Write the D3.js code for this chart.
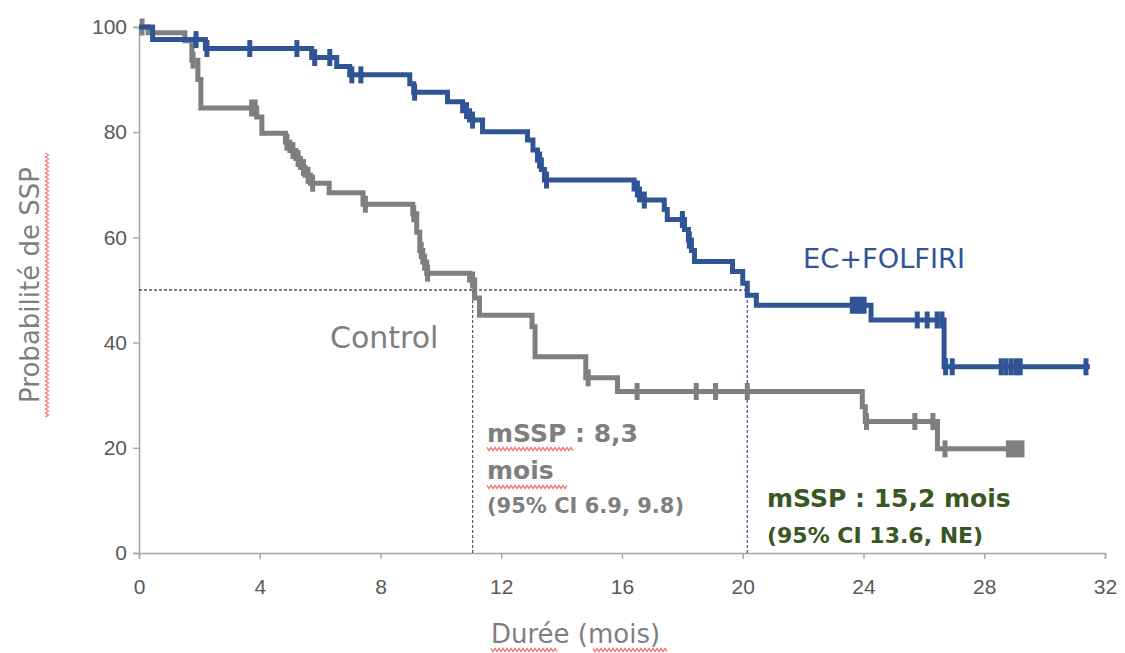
<!DOCTYPE html>
<html>
<head>
<meta charset="utf-8">
<script src="https://cdn.jsdelivr.net/npm/d3@7"></script>
<style>
  body { margin: 0; background: #fff; }
  svg { display: block; }
</style>
</head>
<body>
<div id="chart"></div>
<script>
// survival data (time in months, survival in %)
const blueTime = [0, 0.45, 2.2, 5.72, 6.55, 6.98, 8.97, 9.1, 10.22, 10.72, 10.95, 11.38, 12.87, 13.05, 13.2, 13.33, 13.43, 16.4, 16.58, 17.4, 17.5, 18.07, 18.2, 18.3, 18.4, 19.66, 20.0, 20.15, 20.45, 24.25, 26.67];
const blueSurv = [100, 97.6, 95.9, 94.2, 92.5, 90.9, 89.2, 87.6, 85.8, 84.1, 82.3, 80.1, 78.5, 76.6, 74.7, 72.9, 70.9, 69.2, 67.1, 65.3, 63.4, 61.5, 59.5, 57.5, 55.4, 53.5, 51.3, 49.0, 47.1, 44.3, 35.4];
const blueEnd = 31.5;
const blueCens = [1.89, 2.25, 3.67, 5.23, 5.82, 6.32, 7.05, 7.35, 9.13, 10.85, 11.05, 13.27, 13.5, 16.51, 16.74, 18.0, 18.23, 23.63, 23.76, 23.89, 24.02, 25.78, 26.11, 26.44, 26.6, 26.72, 26.94, 28.56, 28.72, 28.89, 29.05, 29.19, 31.37];

const greyTime = [0, 0.3, 1.52, 1.75, 1.95, 2.05, 3.9, 4.07, 4.85, 5.0, 5.2, 5.35, 5.5, 5.68, 6.3, 7.42, 9.07, 9.2, 9.3, 9.4, 9.53, 10.95, 11.12, 11.28, 13.02, 13.12, 14.8, 15.85, 23.96, 24.06, 26.45];
const greySurv = [100, 98.9, 97.4, 93.7, 90.0, 84.6, 82.9, 79.8, 78.1, 76.5, 75.0, 73.3, 71.8, 70.3, 68.5, 66.3, 64.5, 61.0, 57.5, 55.3, 53.2, 51.9, 48.5, 45.2, 43.0, 37.3, 33.3, 30.7, 27.8, 25.0, 19.8];
const greyEnd = 29.3;
const greyCens = [0.1, 1.79, 3.73, 3.85, 4.9, 5.1, 5.27, 5.45, 5.6, 5.75, 7.5, 9.1, 9.35, 9.46, 9.56, 11.05, 14.88, 16.5, 18.46, 19.1, 20.15, 24.1, 25.7, 26.3, 26.7, 28.8, 28.95, 29.1, 29.25];

const medianLevel = 50;
const medianGrey = 11.05;
const medianBlue = 20.15;

const xTicks = [0, 4, 8, 12, 16, 20, 24, 28, 32];
const yTicks = [0, 20, 40, 60, 80, 100];

const blue = "#2F5597", grey = "#7F7F7F", green = "#385723";

const W = 1125, H = 653;
const svg = d3.select("#chart").append("svg")
  .attr("width", W)
  .attr("height", H);

const x = d3.scaleLinear().domain([0, 32]).range([139, 1105]);
const y = d3.scaleLinear().domain([0, 100]).range([553, 27]);

// axes
const yAxis = svg.append("g")
  .attr("transform", `translate(${x(0)},0)`)
  .call(d3.axisLeft(y).tickValues(yTicks).tickSize(6).tickPadding(6));
const xAxis = svg.append("g")
  .attr("transform", `translate(0,${y(0)})`)
  .call(d3.axisBottom(x).tickValues(xTicks).tickSize(6).tickPadding(20));
[xAxis, yAxis].forEach(g => {
  g.select(".domain").attr("stroke", "#A6A6A6").attr("stroke-width", 1.6);
  g.selectAll(".tick line").attr("stroke", "#A6A6A6").attr("stroke-width", 1.4);
  g.selectAll(".tick text")
    .attr("fill", "#595959")
    .style("font-family", "'Liberation Sans', Arial, sans-serif")
    .style("font-size", "21px");
});

// median reference lines
svg.append("line")
  .attr("x1", x(0)).attr("x2", x(medianBlue))
  .attr("y1", y(medianLevel)).attr("y2", y(medianLevel))
  .attr("stroke", "#000").attr("stroke-width", 1.2).attr("stroke-dasharray", "3,2");
svg.append("line")
  .attr("x1", x(medianGrey)).attr("x2", x(medianGrey))
  .attr("y1", y(medianLevel)).attr("y2", y(0))
  .attr("stroke", "#595959").attr("stroke-width", 1.2).attr("stroke-dasharray", "3,2");
svg.append("line")
  .attr("x1", x(medianBlue)).attr("x2", x(medianBlue))
  .attr("y1", y(medianLevel)).attr("y2", y(0))
  .attr("stroke", blue).attr("stroke-width", 1.2).attr("stroke-dasharray", "3,2");

// step curves
function stepLevel(times, surv, t) {
  const i = d3.bisectRight(times, t) - 1;
  return surv[Math.max(i, 0)];
}
function drawCurve(times, surv, end, cens, color) {
  const pts = times.map((t, i) => [t, surv[i]]);
  pts.push([end, surv[surv.length - 1]]);
  const line = d3.line()
    .x(d => x(d[0]))
    .y(d => y(d[1]))
    .curve(d3.curveStepAfter);
  svg.append("path")
    .datum(pts)
    .attr("d", line)
    .attr("fill", "none")
    .attr("stroke", color)
    .attr("stroke-width", 5)
    .attr("stroke-linejoin", "miter");
  svg.append("g").selectAll("line")
    .data(cens)
    .join("line")
      .attr("x1", d => x(d)).attr("x2", d => x(d))
      .attr("y1", d => y(stepLevel(times, surv, d)) - 8.5)
      .attr("y2", d => y(stepLevel(times, surv, d)) + 8.5)
      .attr("stroke", color)
      .attr("stroke-width", 5);
}
drawCurve(greyTime, greySurv, greyEnd, greyCens, grey);
drawCurve(blueTime, blueSurv, blueEnd, blueCens, blue);

// labels
const font = "'DejaVu Sans', sans-serif";
function label(tx, ty, str, size, color, weight) {
  return svg.append("text")
    .attr("x", tx).attr("y", ty)
    .attr("fill", color)
    .style("font-family", font)
    .style("font-size", size + "px")
    .style("font-weight", weight || "normal")
    .text(str);
}
label(330, 348, "Control", 30, grey);
label(803, 268, "EC+FOLFIRI", 27, blue).attr("textLength", 162).attr("lengthAdjust", "spacingAndGlyphs");

label(487, 442, "mSSP : 8,3", 25, grey, "bold");
label(487, 479, "mois", 25, grey, "bold");
label(487, 513, "(95% CI 6.9, 9.8)", 21, grey, "bold");
label(767, 507, "mSSP : 15,2 mois", 25, green, "bold");
label(767, 543, "(95% CI 13.6, NE)", 22, green, "bold");

label(491, 643, "Durée (mois)", 26, grey);
svg.append("text")
  .attr("transform", "translate(39,285) rotate(-90)")
  .attr("text-anchor", "middle")
  .attr("fill", grey)
  .style("font-family", font)
  .style("font-size", "26px")
  .text("Probabilité de SSP");

// spell-check squiggles
function squiggle(x1, x2, yy, vertical) {
  const pts = [];
  for (let p = x1, k = 0; p <= x2; p += 2, k++) pts.push([p, yy + (k % 2 ? 1.6 : -1.6)]);
  svg.append("path")
    .attr("d", d3.line()(vertical ? pts.map(d => [d[1], d[0]]) : pts))
    .attr("fill", "none")
    .attr("stroke", "#F26C6C")
    .attr("stroke-width", 1.1);
}
squiggle(487, 573, 449);
squiggle(487, 567, 487);
squiggle(491, 558, 650);
squiggle(593, 668, 650);
squiggle(153, 418, 47, true);
</script>
</body>
</html>
